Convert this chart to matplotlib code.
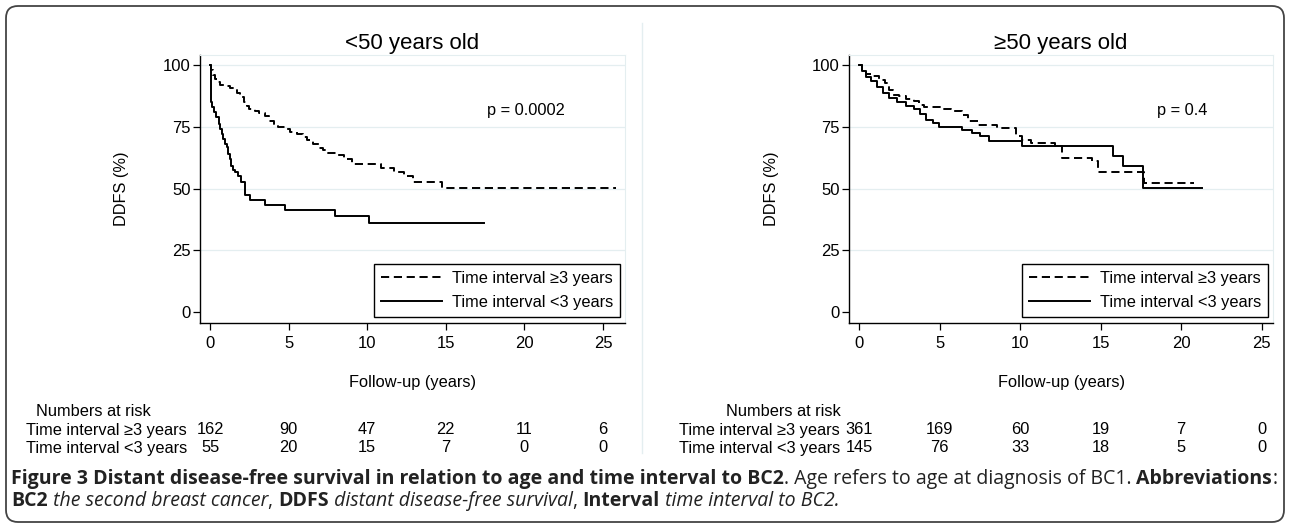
import numpy as np
import matplotlib.pyplot as plt
import matplotlib.transforms as mtransforms
from matplotlib.patches import FancyBboxPatch
from matplotlib.lines import Line2D

W, H = 1290, 528

panel_titles = ['<50 years old', '\u226550 years old']
group_labels = ['Time interval \u22653 years', 'Time interval <3 years']
p_values = ['p = 0.0002', 'p = 0.4']

# Kaplan-Meier steps (years, DDFS %)
young_ge3_t = [0, 0.08, 0.21, 0.34, 0.48, 0.61, 1.0, 1.27, 1.53, 1.72, 1.93, 2.14, 2.33, 2.46,
               2.85, 3.12, 3.5, 3.78, 4.04, 4.31, 4.84, 5.1, 5.5, 5.9, 6.16, 6.55, 6.95, 7.2,
               7.48, 8.14, 8.54, 9.06, 10.9, 11.7, 12.37, 12.9, 14.75, 25.85]
young_ge3_s = [100, 98, 96, 94.5, 93, 92, 91.5, 90.5, 89.8, 88.5, 87, 85, 83.5, 82.3,
               81.5, 80.5, 79.3, 77.5, 76, 75, 74, 73, 72, 71, 69.5, 68, 66.5, 65.5,
               64.5, 63.5, 62, 59.8, 58.1, 56.7, 55.1, 52.8, 50.4, 50.4]
young_lt3_t = [0, 0.03, 0.08, 0.15, 0.25, 0.4, 0.55, 0.65, 0.75, 0.85, 0.95, 1.05, 1.15, 1.25,
               1.35, 1.45, 1.6, 1.8, 1.95, 2.2, 2.55, 3.5, 4.75, 7.95, 10.1, 17.4]
young_lt3_s = [100, 90, 85, 83, 81, 79, 76, 74, 72, 70, 68, 67, 64, 62,
               59, 57.5, 56.5, 55, 52.5, 47.5, 45.5, 43.3, 41.2, 38.7, 36.1, 36.1]
old_ge3_t = [0, 0.2, 0.46, 0.85, 1.23, 1.62, 1.88, 2.13, 2.5, 2.9, 3.42, 3.7, 4.06, 5.2,
             5.7, 6.4, 6.76, 7.4, 8.56, 9.72, 10.1, 10.7, 12.16, 12.6, 14.47, 14.86, 17.7, 20.77]
old_ge3_s = [100, 98, 96.5, 95.7, 94, 92.7, 90, 88, 87.3, 86.3, 85.6, 84, 83, 82.2,
             81.3, 79.9, 77.2, 75.9, 74.5, 71.2, 69.8, 68.5, 67.1, 62.4, 61, 56.7, 52.3, 52.3]
old_lt3_t = [0, 0.21, 0.46, 0.72, 1.1, 1.49, 1.88, 2.39, 2.9, 3.42, 3.8, 4.19, 4.58, 4.96,
             6.38, 7.0, 7.53, 8.05, 10.1, 15.76, 16.4, 17.6, 21.3]
old_lt3_s = [100, 97.4, 95, 93.4, 91, 88.7, 86.7, 85, 83.6, 82, 80, 77.9, 76.5, 75,
             73.6, 72.5, 71.2, 69.4, 67.1, 63.3, 59, 50.2, 50.2]

risk_times = [0, 5, 10, 15, 20, 25]
young_risk_ge3 = [162, 90, 47, 22, 11, 6]
young_risk_lt3 = [55, 20, 15, 7, 0, 0]
old_risk_ge3 = [361, 169, 60, 19, 7, 0]
old_risk_lt3 = [145, 76, 33, 18, 5, 0]

plt.rcParams['font.family'] = ['Liberation Sans', 'DejaVu Sans']

fig = plt.figure(figsize=(W / 100, H / 100), dpi=100)

def px_box(x0, x1, y0, y1):
    return [x0 / W, 1 - y1 / H, (x1 - x0) / W, (y1 - y0) / H]

grid_col = '#e4eef0'
panels = [
    dict(box=(200, 625, 55, 323), xlim=(-0.64, 26.4), title=panel_titles[0], p=p_values[0], px=17.6,
         curves=[(young_ge3_t, young_ge3_s), (young_lt3_t, young_lt3_s)],
         risk=[young_risk_ge3, young_risk_lt3], nar_x=93, lab_x=26, ylab_x=129),
    dict(box=(849, 1273, 55, 323), xlim=(-0.62, 25.7), title=panel_titles[1], p=p_values[1], px=18.5,
         curves=[(old_ge3_t, old_ge3_s), (old_lt3_t, old_lt3_s)],
         risk=[old_risk_ge3, old_risk_lt3], nar_x=783, lab_x=679, ylab_x=779),
]

fs_tick = 12
fs_text = 11.8
for pn in panels:
    x0, x1, y0, y1 = pn['box']
    ax = fig.add_axes(px_box(x0, x1, y0, y1))
    ax.set_xlim(*pn['xlim'])
    ax.set_ylim(-4.45, 104.05)
    for y in [25, 50, 75, 100]:
        ax.axhline(y, color=grid_col, lw=0.9, zorder=0)
    (t1, s1), (t2, s2) = pn['curves']
    ax.step(t1, s1, where='post', color='black', lw=1.4, dashes=(4.2, 2.4), label=group_labels[0])
    ax.step(t2, s2, where='post', color='black', lw=1.4, label=group_labels[1])
    ax.set_xticks(risk_times)
    ax.set_yticks([0, 25, 50, 75, 100])
    ax.tick_params(direction='out', length=5, width=0.9, labelsize=fs_tick)
    ax.tick_params(axis='y', pad=1.5)
    ax.tick_params(axis='x', pad=4)
    for s in ['top', 'right']:
        ax.spines[s].set_color(grid_col)
    for s in ['left', 'bottom']:
        ax.spines[s].set_linewidth(1.0)
    ax.set_ylabel('DDFS (%)', fontsize=fs_text)
    ax.yaxis.set_label_coords((pn['ylab_x'] - x0) / (x1 - x0), 0.5)
    ax.set_xlabel('Follow-up (years)', fontsize=fs_text)
    ax.xaxis.set_label_coords(0.5, (y1 - 375) / (y1 - y0))
    ax.text(0.5, (y1 - 44) / (y1 - y0), pn['title'], transform=ax.transAxes,
            ha='center', va='center', fontsize=16)
    ax.text(pn['px'], 81.5, pn['p'], ha='left', va='center', fontsize=fs_text)
    leg = ax.legend(loc='lower right', bbox_to_anchor=(1 - 5 / (x1 - x0), 6 / (y1 - y0)),
                    borderaxespad=0, fontsize=fs_text, frameon=True, fancybox=False,
                    edgecolor='black', framealpha=1, handlelength=3.7, handletextpad=0.6,
                    borderpad=0.43, labelspacing=0.55)
    leg.get_frame().set_linewidth(1.0)

    # numbers at risk table
    bt = mtransforms.blended_transform_factory(ax.transData, fig.transFigure)
    fig.text(pn['nar_x'] / W, 1 - 411 / H, 'Numbers at risk', ha='center', va='center', fontsize=fs_text)
    for row, (lab, vals) in enumerate(zip(group_labels, pn['risk'])):
        yy = 1 - (430 + 18 * row) / H
        fig.text(pn['lab_x'] / W, yy, lab, ha='left', va='center', fontsize=fs_text)
        for t, v in zip(risk_times, vals):
            ax.text(t, yy, str(v), transform=bt, ha='center', va='center', fontsize=fs_text)

# divider between the two graphs
fig.add_artist(Line2D([642 / W, 642 / W], [1 - 23 / H, 1 - 453 / H], color=grid_col, lw=1.0))

# outer rounded frame
frame = FancyBboxPatch((6, 6), W - 12, H - 12, boxstyle='round,pad=0,rounding_size=12',
                       transform=mtransforms.IdentityTransform(), fill=False,
                       edgecolor='#444444', lw=1.3)
fig.patches.append(frame)

# caption, with bold / italic runs
cap_font = ['Open Sans', 'Noto Sans', 'DejaVu Sans']
cap_col = '#222222'
line1 = [('Figure 3 Distant disease-free survival in relation to age and time interval to BC2', 'bold', 'normal'),
         ('. Age refers to age at diagnosis of BC1. ', 'normal', 'normal'),
         ('Abbreviations', 'bold', 'normal'),
         (':', 'normal', 'normal')]
line2 = [('BC2', 'bold', 'normal'), (' the second breast cancer', 'normal', 'italic'),
         (', ', 'normal', 'normal'), ('DDFS', 'bold', 'normal'),
         (' distant disease-free survival', 'normal', 'italic'), (', ', 'normal', 'normal'),
         ('Interval', 'bold', 'normal'), (' time interval to BC2.', 'normal', 'italic')]

renderer = fig.canvas.get_renderer()

def run_width(s, weight, style, size):
    t1 = fig.text(0, 0, '|' + s + '|', fontsize=size, family=cap_font, weight=weight, style=style)
    t2 = fig.text(0, 0, '||', fontsize=size, family=cap_font, weight=weight, style=style)
    w = t1.get_window_extent(renderer).width - t2.get_window_extent(renderer).width
    t1.remove()
    t2.remove()
    return w

def draw_runs(runs, x, y, size):
    for s, weight, style in runs:
        fig.text(x / W, 1 - y / H, s, fontsize=size, family=cap_font, weight=weight,
                 style=style, ha='left', va='center', color=cap_col)
        x += run_width(s, weight, style, size)

cap_size = 11.0
w1 = sum(run_width(s, w, st, cap_size) for s, w, st in line1)
cap_size = cap_size * (1279 - 11) / w1
draw_runs(line1, 11, 479, cap_size)
draw_runs(line2, 11, 501, cap_size)

fig.savefig('out.png', dpi=100)
